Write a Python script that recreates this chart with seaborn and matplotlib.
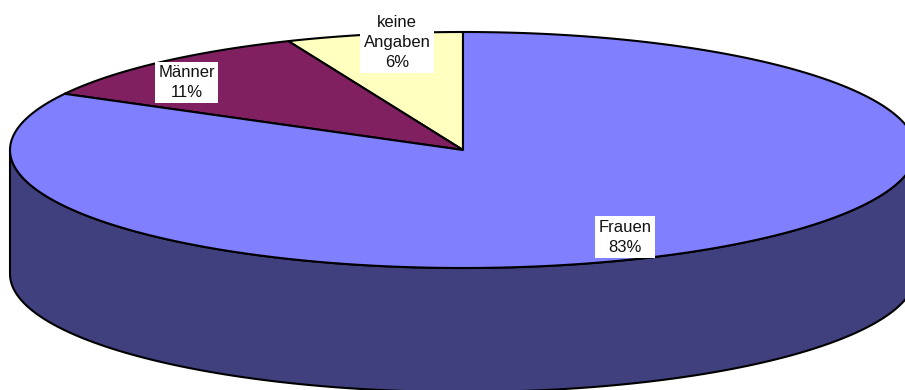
import numpy as np
import matplotlib
matplotlib.use("Agg")
import matplotlib.pyplot as plt
from matplotlib.patches import Polygon
import seaborn as sns

# data (slice order: counterclockwise from 12 o'clock), percent
labels = ["keine\nAngaben", "Männer", "Frauen"]
values = [6.3, 10.8, 82.9]
top_colors = ["#FFFFC0", "#802060", "#8080FF"]
side_colors = ["#80805F", "#401030", "#40407F"]

sns.set_theme(style="white")
plt.rcParams["font.family"] = ["Liberation Sans", "DejaVu Sans"]

# pseudo-3D geometry in pixel units
cx, cy, rx, ry, depth = 463, 150, 453, 118, 124


def pt(theta, dy=0.0):
    t = np.radians(theta)
    return cx + rx * np.cos(t), cy - ry * np.sin(t) + dy


fig = plt.figure(figsize=(9.05, 3.9), dpi=100)
ax = fig.add_axes([0, 0, 1, 1])
ax.set_xlim(0, 905)
ax.set_ylim(390, 0)
ax.axis("off")

total = float(sum(values))
starts = 90 + np.concatenate([[0], np.cumsum(values)[:-1]]) / total * 360
ends = starts + np.array(values) / total * 360

# side walls (only the front half, 180..360 deg, is visible)
for s, e, col in zip(starts, ends, side_colors):
    a0, a1 = max(s, 180), min(e, 360)
    if a1 <= a0:
        continue
    th = np.linspace(a0, a1, 200)
    upper = [pt(t) for t in th]
    lower = [pt(t, depth) for t in th[::-1]]
    ax.add_patch(Polygon(upper + lower, closed=True, facecolor=col,
                         edgecolor="black", lw=1.5, joinstyle="round"))

# top faces
for s, e, col in zip(starts, ends, top_colors):
    th = np.linspace(s, e, 300)
    verts = [(cx, cy)] + [pt(t) for t in th]
    ax.add_patch(Polygon(verts, closed=True, facecolor=col,
                         edgecolor="black", lw=1.5, joinstyle="round"))

# labels
label_r = [(0.74, 0.93), (0.91, 0.77), (0.70, 0.86)]
for lab, v, s, e, (fx, fy) in zip(labels, values, starts, ends, label_r):
    mid = np.radians((s + e) / 2)
    x = cx + rx * fx * np.cos(mid)
    y = cy - ry * fy * np.sin(mid)
    ax.text(x, y, f"{lab}\n{v:.0f}%", ha="center", va="center", fontsize=12,
            linespacing=1.4, color="#111111",
            bbox=dict(boxstyle="square,pad=0.2", fc="white", ec="none"))

fig.savefig("out.png", dpi=100)
